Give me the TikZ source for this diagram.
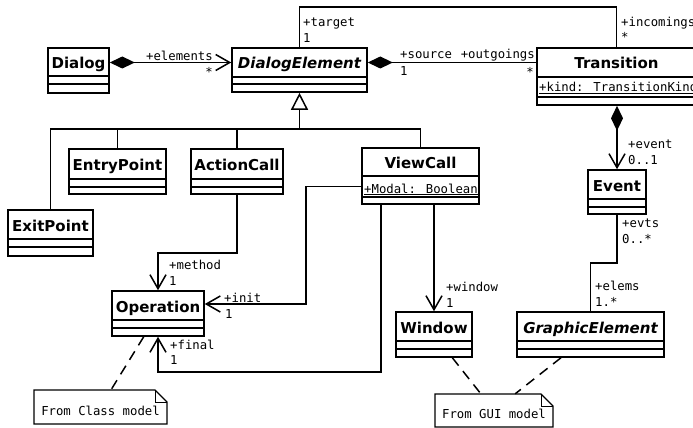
\documentclass[tikz,border=0pt]{standalone}
\usepackage{fontspec}
\setmainfont{DejaVu Sans}
\newfontfamily\monof{DejaVu Sans Mono}
\usetikzlibrary{arrows.meta,fit}

\tikzset{
  clsbox/.style={draw, line width=1.6pt, inner sep=0pt, fill=white},
  boxline/.style={line width=1.6pt},
  ttl/.style={font=\fontsize{15}{15}\selectfont\bfseries, inner sep=0pt, anchor=base},
  attr/.style={font=\fontsize{12.3}{12.3}\monof, inner sep=0pt, anchor=base west},
  lbl/.style={font=\fontsize{12.3}{12.3}\monof, inner sep=0pt, anchor=base west},
  lblr/.style={lbl, anchor=base east},
  conn/.style={line width=1.5pt},
  nav/.style={conn, -{Straight Barb[length=14pt,width=16pt]}},
  comp/.style={conn, {Diamond[length=25pt,width=12pt]}-},
  compnav/.style={conn, {Diamond[length=25pt,width=12pt]}-{Straight Barb[length=14pt,width=16pt]}},
  gen/.style={conn, -{Triangle[open,length=17pt,width=17pt,fill=white]}},
  noteline/.style={line width=1.3pt, fill=white},
  foldline/.style={line width=0.8pt},
  notelink/.style={line width=1.5pt, dash pattern=on 10pt off 7pt},
}

\newcommand\umlclass[8]{%
  \node[clsbox, fit={(#2,#3)(#4,#5)}] (#1) {};
  \draw[boxline] (#2,#6) -- (#4,#6) (#2,#7) -- (#4,#7);
  \coordinate (#1-tc) at ({(#2+#4)/2},{(#3+#6)/2});
  \coordinate (#1-ac) at ({(#2+#4)/2},{(#6+#7)/2});
  \node[ttl] (#1-t) at ({(#2+#4)/2},{(#3+#6)/2+6.5}) {#8};
}
\newcommand\umlnote[6]{%
  \node[inner sep=0pt, fit={(#2,#3)(#4,#5)}] (#1) {};
  \draw[noteline] (#2,#3) -- ({#4-12},#3) -- (#4,{#3+12}) -- (#4,#5) -- (#2,#5) -- cycle;
  \draw[foldline] ({#4-12},#3) -- ({#4-12},{#3+12}) -- (#4,{#3+12});
  \node[lbl, anchor=base] (#1-t) at ({(#2+#4)/2},{#5-9}) {#6};
}

\begin{document}
\begin{tikzpicture}[x=1pt,y=-1pt]
\useasboundingbox (0,0) rectangle (693,428);
\clip (0,0) rectangle (693,428);

% classes
\umlclass{dialog}{48}{48}{109}{93}{76}{84}{Dialog}
\umlclass{de}{232}{48}{367}{92}{77}{84}{\itshape DialogElement}
\umlclass{trans}{537}{48}{696}{105}{77}{97}{Transition}
\umlclass{entry}{69}{149}{166}{194}{179}{187}{EntryPoint}
\umlclass{ac}{191}{149}{283}{194}{179}{187}{ActionCall}
\umlclass{exit}{8}{210}{93}{256}{239}{247}{ExitPoint}
\umlclass{vc}{362}{148}{479}{204}{176}{197}{ViewCall}
\umlclass{event}{588}{170}{646}{214}{199}{207}{Event}
\umlclass{op}{112}{291}{204}{336}{320}{328}{Operation}
\umlclass{win}{396}{312}{472}{357}{341}{349}{Window}
\umlclass{ge}{517}{312}{664}{357}{341}{349}{\itshape GraphicElement}

% attributes
\node[attr] (trans-a) at (539,92) {\underline{+kind: TransitionKind}};
\node[attr] (vc-a) at (364,193) {\underline{+Modal: Boolean}};

% notes
\umlnote{n1}{34}{390}{167}{424}{From Class model}
\umlnote{n2}{435}{394}{553}{427}{From GUI model}

% Dialog -- DialogElement
\draw[compnav] (dialog.east |- de-tc) -- (de.west |- de-tc);
\node[lblr] at (213,60) {+elements};
\node[lblr] at (213,76) {*};

% DialogElement -- Transition (source)
\draw[comp] (de.east |- de-tc) -- (trans.west |- de-tc);
\node[lbl] at (400,59) {+source};
\node[lbl] at (400,75) {1};
\node[lblr] at (535,59) {+outgoings};
\node[lblr] at (534,76) {*};

% target / incomings
\coordinate (topc) at (458,7);
\draw[conn] (de.north) |- (topc) -| (trans.north);
\node[lbl] at (303,27) {+target};
\node[lbl] at (303,43) {1};
\node[lbl] at (621,27) {+incomings};
\node[lbl] at (621,42) {*};

% generalization
\coordinate (gbar) at (299.5,129);
\draw[conn] (exit.north) |- (vc.north |- gbar) -- (vc.north);
\draw[conn] (entry.north) -- (entry.north |- gbar);
\draw[conn] (ac.north) -- (ac.north |- gbar);
\draw[gen] (gbar) -- (de.south);

% Transition -- Event
\draw[compnav] (event.north |- trans.south) -- (event.north);
\node[lbl] at (628,148) {+event};
\node[lbl] at (628,164) {0..1};

% Event -- GraphicElement
\coordinate (evge) at (604,263);
\draw[conn] (event.south) |- (evge) -| (ge.north);
\node[lbl] at (622,227) {+evts};
\node[lbl] at (622,243) {0..*};
\node[lbl] at (595,290) {+elems};
\node[lbl] at (595,306) {1.*};

% ActionCall -> Operation
\coordinate (acop) at (200,253);
\draw[nav] (ac.south) |- (acop) -| (op.north);
\node[lbl] at (169,269) {+method};
\node[lbl] at (169,285) {1};

% ViewCall -> Operation (init)
\coordinate (initc) at (306,304);
\draw[nav] (vc.west |- vc-ac) -| (initc) -- (op.east |- initc);
\node[lbl] at (224,302) {+init};
\node[lbl] at (225,318) {1};

% ViewCall -> Operation (final)
\coordinate (finc) at (270,372);
\draw[nav] ([xshift=20pt]vc.south west) |- (finc) -| (op.south);
\node[lbl] at (170,349) {+final};
\node[lbl] at (170,364) {1};

% ViewCall -> Window
\draw[nav] (win.north |- vc.south) -- (win.north);
\node[lbl] at (446,291) {+window};
\node[lbl] at (446,307) {1};

% note links
\draw[notelink] (op) -- (n1);
\draw[notelink] (win) -- (n2);
\draw[notelink] (ge) -- (n2);
\end{tikzpicture}
\end{document}
